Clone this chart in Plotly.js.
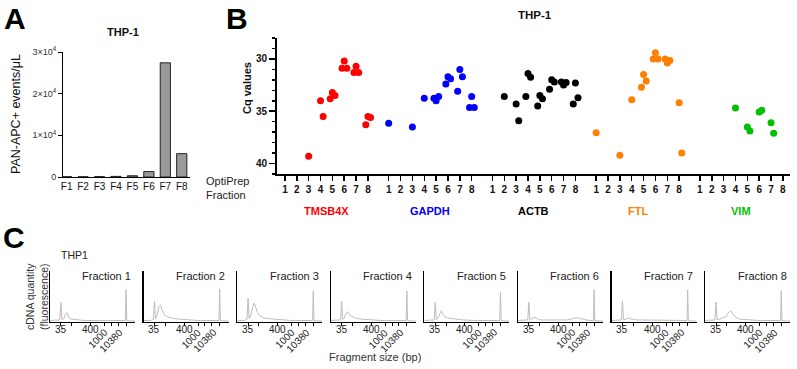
<!DOCTYPE html>
<html>
<head>
<meta charset="utf-8">
<script src="https://cdn.plot.ly/plotly-3.0.1.min.js"></script>
<style>html,body{margin:0;padding:0;background:#fff;}#chart{width:797px;height:369px;}</style>
</head>
<body>
<div id="chart"></div>
<script>
// ---------- DATA ----------
// Panel A
const fractionsA = ['F1','F2','F3','F4','F5','F6','F7','F8'];
const panEvents = [60, 60, 80, 150, 300, 1300, 27400, 5600];

// Panel B
const genes = ['TMSB4X','GAPDH','ACTB','FTL','VIM'];
const fractionLabels = ['1','2','3','4','5','6','7','8'];
const tmsb4xFraction = [3,4,4,5,5,5,6,6,6,7,7,7,8,8,8];
const tmsb4xCq      = [39.3,34.0,35.5,33.2,33.5,33.8,30.2,30.9,30.9,30.7,31.3,31.3,35.5,35.6,36.3];
const gapdhFraction = [1,3,4,5,5,5,6,6,6,7,7,7,8,8,8];
const gapdhCq       = [36.15,36.5,33.75,34.0,33.6,33.75,31.7,31.9,32.4,31.0,31.7,33.1,33.6,34.65,34.65];
const actbFraction  = [2,3,3,4,4,4,5,5,5,6,6,6,7,7,7,8,8,8];
const actbCq        = [33.6,34.3,35.9,31.4,31.75,33.6,33.5,33.8,34.5,32.0,32.2,32.9,32.5,32.25,32.2,32.3,33.7,34.3];
const ftlFraction   = [1,3,4,5,5,5,6,6,6,7,7,7,8,8];
const ftlCq         = [37.05,39.2,33.9,31.5,32.1,32.7,29.4,30.0,30.0,30.4,30.15,30.0,34.2,39.0];
const vimFraction   = [4,5,5,6,6,7,7];
const vimCq         = [34.7,36.5,36.9,35.07,34.9,36.1,37.1];

// Panel C
const ladderLabels = ['35','400','1000','10380'];
const ladderPos = [12.8, 47.7, 72, 89.5];
const minorLadderPos = [25.6, 64, 80];
const migration = [0,4,8,11.5,12.8,14,16,18,20,22,24,27,30,34,40,46,52,58,63,67,71,75,80,85,88.7,89.5,90.3,94,100];
const fraction1Signal = [3,3,3,4,39,5,6,15,18,10,6,5,4,4,3,3,3,3,3,3,3,3,3,3,3,63,3,2,2];
const fraction2Signal = [3,3,3,5,41,6,14,30,33,22,15,11,9,7,6,5,4,4,3,3,3,3,3,3,3,65,3,2,2];
const fraction3Signal = [3,3,3,5,47,7,12,28,37,28,18,12,9,7,6,5,4,4,3,3,3,3,3,3,3,61,3,2,2];
const fraction4Signal = [3,3,3,4,41,5,8,17,20,14,12,9,7,6,5,4,4,3,3,3,3,3,3,3,3,61,3,2,2];
const fraction5Signal = [3,3,3,4,39,5,8,16,22,15,10,8,7,6,5,4,3,3,3,3,3,3,3,3,3,59,3,2,2];
const fraction6Signal = [3,3,3,4,39,5,6,8,10,7,5,4,4,3,3,3,3,4,6,8,8,6,4,3,3,63,3,2,2];
const fraction7Signal = [3,3,3,4,41,5,5,7,8,6,5,5,4,4,3,3,3,4,4,4,4,3,3,3,3,63,3,2,2];
const fraction8Signal = [3,3,3,4,39,5,5,6,8,10,9,18,22,12,6,5,4,4,3,3,3,3,3,3,3,61,3,2,2];

// ---------- STYLE / LAYOUT HELPERS ----------
const W = 797, H = 369;
const FONT = 'Liberation Sans, Arial, Helvetica, sans-serif';
const dx = px => px / W;
const dy = px => 1 - px / H;
const geneColors = ['#ff0000','#0000ff','#000000','#ff8000','#00c000'];
const groupStride = 8.75;

const traces = [];
const annotations = [];
const ann = (text, x, y, o = {}) => annotations.push(Object.assign({
  xref:'paper', yref:'paper', x: dx(x), y: dy(y), text, showarrow:false,
  xanchor:'center', yanchor:'middle', font:{family:FONT, size:11, color:'#111'}
}, o));

// Panel A
traces.push({
  type:'bar', x: fractionsA, y: panEvents, xaxis:'x', yaxis:'y', width:0.62,
  marker:{color:'#9a9a9a', line:{color:'#222', width:1}}, hoverinfo:'skip'
});

// Panel B
const geneFractions = [tmsb4xFraction, gapdhFraction, actbFraction, ftlFraction, vimFraction];
const geneCqs = [tmsb4xCq, gapdhCq, actbCq, ftlCq, vimCq];
genes.forEach((g, gi) => {
  const seen = {};
  const xs = geneFractions[gi].map(f => {
    const k = seen[f] = (seen[f] === undefined ? 0 : seen[f] + 1);
    const off = k === 1 ? 0.22 : (k === 2 ? -0.18 : 0);
    return gi * groupStride + (f - 1) + off;
  });
  traces.push({
    type:'scatter', mode:'markers', x: xs, y: geneCqs[gi], xaxis:'x2', yaxis:'y2',
    marker:{color: geneColors[gi], size:7}, hoverinfo:'skip'
  });
});
const tickValsB = [], tickTextB = [];
genes.forEach((g, gi) => fractionLabels.forEach((lab, fi) => {
  tickValsB.push(gi * groupStride + fi); tickTextB.push(lab);
}));

// Panel C
const signals = [fraction1Signal, fraction2Signal, fraction3Signal, fraction4Signal,
                 fraction5Signal, fraction6Signal, fraction7Signal, fraction8Signal];
const layoutC = {};
const cStride = 93.6, cLeft = 50, cWidth = 85, cTop = 271, cBottom = 322;
const allTicks = ladderPos.concat(minorLadderPos).sort((a,b)=>a-b);
const tickFontC = {family:FONT, size:10, color:'#222'};
signals.forEach((s, i) => {
  const n = i + 3;
  traces.push({
    type:'scatter', mode:'lines', x: migration, y: s, xaxis:'x'+n, yaxis:'y'+n,
    line:{color:'#bdbdbd', width:1}, hoverinfo:'skip'
  });
  const x0 = cLeft + i * cStride;
  layoutC['xaxis'+n] = {
    domain:[dx(x0), dx(x0 + cWidth)], anchor:'y'+n, range:[0, 100],
    showline:true, linecolor:'#000', linewidth:1.3, showgrid:false, zeroline:false,
    ticks:'outside', ticklen:3, tickwidth:1, tickcolor:'#000',
    tickmode:'array', tickvals: allTicks, showticklabels:false, fixedrange:true
  };
  layoutC['yaxis'+n] = {
    domain:[dy(cBottom), dy(cTop)], anchor:'x'+n, range:[0, 100],
    showline:true, linecolor:'#000', linewidth:1.3, showgrid:false, zeroline:false,
    showticklabels:false, ticks:'', fixedrange:true
  };
  ladderLabels.forEach((lab, j) => {
    if (j < 2) {
      annotations.push({xref:'x'+n, yref:'paper', x: ladderPos[j], y: dy(329), text: lab,
        showarrow:false, xanchor:'center', yanchor:'middle', font:tickFontC});
    } else {
      annotations.push({xref:'x'+n, yref:'paper', x: ladderPos[j] + 2, y: dy(324), text: lab,
        textangle:-45, showarrow:false, xanchor:'right', yanchor:'top', font:tickFontC});
    }
  });
  annotations.push({xref:'x'+n+' domain', yref:'paper', x: 0.98, y: dy(276), text: 'Fraction ' + (i + 1),
    showarrow:false, xanchor:'right', yanchor:'middle', font:{family:FONT, size:11, color:'#222'}});
});

// Text annotations
const letterFont = {family:FONT, size:30, color:'#000', weight:'bold'};
ann('<b>A</b>', 15, 19, {font:letterFont});
ann('<b>B</b>', 237, 18, {font:letterFont});
ann('<b>C</b>', 14, 237, {font:letterFont});
ann('<b>THP-1</b>', 123, 32, {font:{family:FONT, size:11, color:'#111'}});
ann('PAN-APC+ events/μL', 16, 114, {textangle:-90, font:{family:FONT, size:12.5, color:'#111'}});
ann('<b>THP-1</b>', 535, 15, {font:{family:FONT, size:11.5, color:'#111'}});
ann('<b>Cq values</b>', 247, 88, {textangle:-90, font:{family:FONT, size:11, color:'#111'}});
ann('OptiPrep<br>Fraction', 204, 188, {xanchor:'left', align:'left', font:{family:FONT, size:11, color:'#222'}});
genes.forEach((g, gi) => {
  annotations.push({xref:'x2', yref:'paper', x: gi * groupStride + 3.5, y: dy(211), text:'<b>'+g+'</b>',
    showarrow:false, xanchor:'center', yanchor:'middle', font:{family:FONT, size:11, color: geneColors[gi]}});
});
ann('THP1', 74, 255, {font:{family:FONT, size:10.5, color:'#222'}});
ann('cDNA quantity<br>(fluorescence)', 37, 297, {textangle:-90, font:{family:FONT, size:10.5, color:'#333'}});
ann('Fragment size (bp)', 375, 357, {font:{family:FONT, size:11, color:'#333'}});

const layout = Object.assign({
  width:W, height:H, margin:{l:0, r:0, t:0, b:0}, paper_bgcolor:'#fff', plot_bgcolor:'rgba(0,0,0,0)',
  showlegend:false, font:{family:FONT, color:'#111'},
  xaxis:{domain:[dx(63), dx(190)], anchor:'y', type:'category', range:[-0.22, 7.5],
    showline:true, linecolor:'#000', linewidth:1, ticks:'', showgrid:false, zeroline:false,
    tickfont:{family:FONT, size:10, color:'#111'}, fixedrange:true},
  yaxis:{domain:[dy(177), dy(52)], anchor:'x', range:[0, 30000],
    tickmode:'array', tickvals:[0,10000,20000,30000],
    ticktext:['0','1×10<sup>4</sup>','2×10<sup>4</sup>','3×10<sup>4</sup>'],
    showline:true, linecolor:'#000', linewidth:1, ticks:'outside', ticklen:4, tickcolor:'#000',
    showgrid:false, zeroline:false, tickfont:{family:FONT, size:9, color:'#333'}, fixedrange:true},
  xaxis2:{domain:[dx(277), dx(790)], anchor:'y2', range:[-0.67, 42.6],
    tickmode:'array', tickvals: tickValsB, ticktext: tickTextB,
    showline:true, linecolor:'#000', linewidth:2, ticks:'outside', ticklen:5, tickwidth:1.5, tickcolor:'#000',
    showgrid:false, zeroline:false, tickfont:{family:FONT, size:10, color:'#111', weight:'bold'}, fixedrange:true},
  yaxis2:{domain:[dy(174), dy(38)], anchor:'x2', range:[41, 28],
    tickmode:'linear', tick0:30, dtick:5,
    showline:true, linecolor:'#000', linewidth:2, ticks:'outside', ticklen:6, tickwidth:1.5, tickcolor:'#000',
    minor:{dtick:1, ticks:'outside', ticklen:3, tickwidth:1.5, tickcolor:'#000'},
    showgrid:false, zeroline:false, tickfont:{family:FONT, size:10, color:'#111', weight:'bold'}, fixedrange:true},
  annotations: annotations
}, layoutC);

Plotly.newPlot('chart', traces, layout, {staticPlot:true, displayModeBar:false});
</script>
</body>
</html>
